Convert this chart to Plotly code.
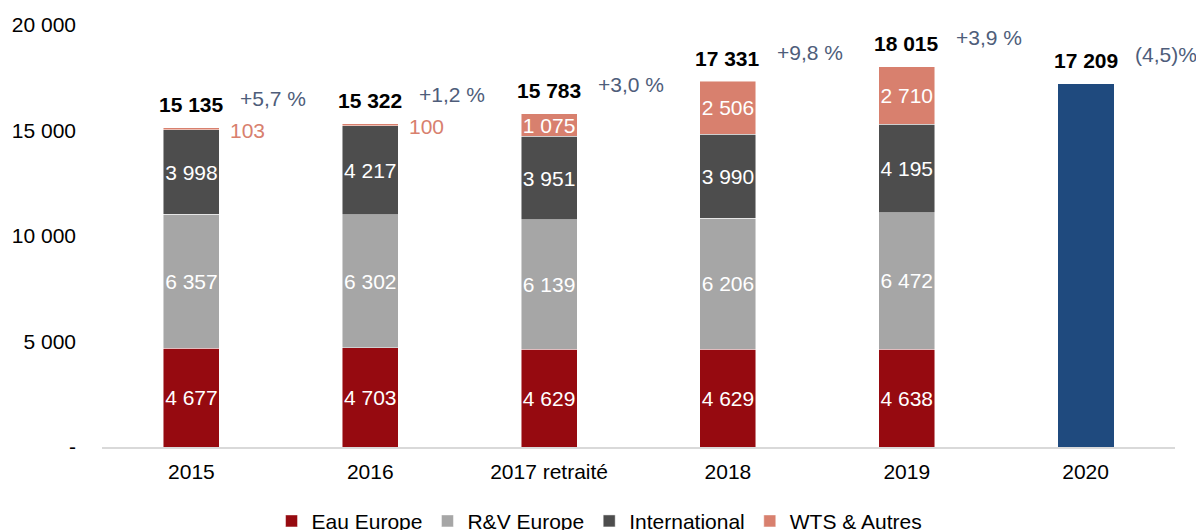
import plotly.graph_objects as go

categories = ["2015", "2016", "2017 retraité", "2018", "2019", "2020"]
eau_europe = [4677, 4703, 4629, 4629, 4638, None]
rv_europe = [6357, 6302, 6139, 6206, 6472, None]
international = [3998, 4217, 3951, 3990, 4195, None]
wts_autres = [103, 100, 1075, 2506, 2710, None]
total_2020 = [None, None, None, None, None, 17209]
totals = [15135, 15322, 15783, 17331, 18015, 17209]
growth = ["+5,7 %", "+1,2 %", "+3,0 %", "+9,8 %", "+3,9 %", "(4,5)%"]
y_tickvals = [0, 5000, 10000, 15000, 20000]
y_ticktext = ["-", "5 000", "10 000", "15 000", "20 000"]

FONT = "Liberation Sans, Arial, sans-serif"
FS = 21
C_EAU = "#960A10"
C_RV = "#A6A6A6"
C_INT = "#4D4D4D"
C_WTS = "#D8806E"
C_2020 = "#1F4A7E"
C_GROWTH = "#4E5D7A"


def fmt(v):
    return "" if v is None else f"{v:,}".replace(",", " ")


def inside_text(vals, min_show=500):
    return [fmt(v) if (v is not None and v >= min_show) else "" for v in vals]


BAR_W = 0.313

fig = go.Figure()
series = [
    ("Eau Europe", eau_europe, C_EAU),
    ("R&V Europe", rv_europe, C_RV),
    ("International", international, C_INT),
    ("WTS & Autres", wts_autres, C_WTS),
]
for name, vals, col in series:
    fig.add_trace(go.Bar(
        x=categories, y=vals, name=name, width=BAR_W,
        marker=dict(color=col, line=dict(color="rgba(255,255,255,0.6)", width=0.8)),
        text=inside_text(vals), textposition="inside", insidetextanchor="middle",
        textangle=0, textfont=dict(color="white", size=FS, family=FONT),
        hoverinfo="skip",
    ))

fig.add_trace(go.Bar(
    x=categories, y=total_2020, name="2020", width=BAR_W, showlegend=False,
    marker=dict(color=C_2020, line=dict(width=0)), hoverinfo="skip",
))

annotations = []
for i, cat in enumerate(categories):
    # on a category axis, annotation x is the category index
    annotations.append(dict(
        x=i, y=totals[i], xref="x", yref="y", text=f"<b>{fmt(totals[i])}</b>",
        showarrow=False, yshift=23, font=dict(size=FS, color="#000000", family=FONT),
    ))
    annotations.append(dict(
        x=i, y=totals[i], xref="x", yref="y", text=growth[i],
        showarrow=False, xanchor="left", xshift=47, yshift=29,
        font=dict(size=FS, color=C_GROWTH, family=FONT),
    ))
    if wts_autres[i] is not None and wts_autres[i] < 500:
        base = eau_europe[i] + rv_europe[i] + international[i]
        annotations.append(dict(
            x=i, y=base + wts_autres[i] / 2, xref="x", yref="y", text=fmt(wts_autres[i]),
            showarrow=False, xanchor="left", xshift=37, yshift=-2,
            font=dict(size=FS, color=C_WTS, family=FONT),
        ))

fig.update_layout(
    barmode="stack",
    width=1196, height=530,
    margin=dict(l=102, r=21, t=25, b=83, autoexpand=False),
    paper_bgcolor="white", plot_bgcolor="white",
    font=dict(family=FONT, size=FS, color="#000000"),
    uniformtext=dict(minsize=FS, mode="show"),
    showlegend=True,
    legend=dict(
        orientation="h", x=0.158, xanchor="left", y=-0.176, yanchor="middle",
        font=dict(size=FS, family=FONT, color="#000000"),
        bgcolor="rgba(0,0,0,0)", traceorder="normal",
    ),
    annotations=annotations,
    xaxis=dict(
        type="category", range=[-0.5, len(categories) - 0.5],
        showline=True, linecolor="#D9D9D9", linewidth=2,
        showgrid=False, ticks="", tickfont=dict(size=FS, color="#000000", family=FONT),
        ticklabelstandoff=5,
    ),
    yaxis=dict(
        range=[0, 20000], tickvals=y_tickvals, ticktext=y_ticktext,
        showgrid=False, zeroline=False, showline=False, ticks="",
        tickfont=dict(size=FS, color="#000000", family=FONT),
        ticklabelstandoff=25,
    ),
)

fig.write_html(
    "out.html",
    config={"displayModeBar": False},
    post_script="document.body.style.margin='0';document.body.style.overflow='hidden';",
)
